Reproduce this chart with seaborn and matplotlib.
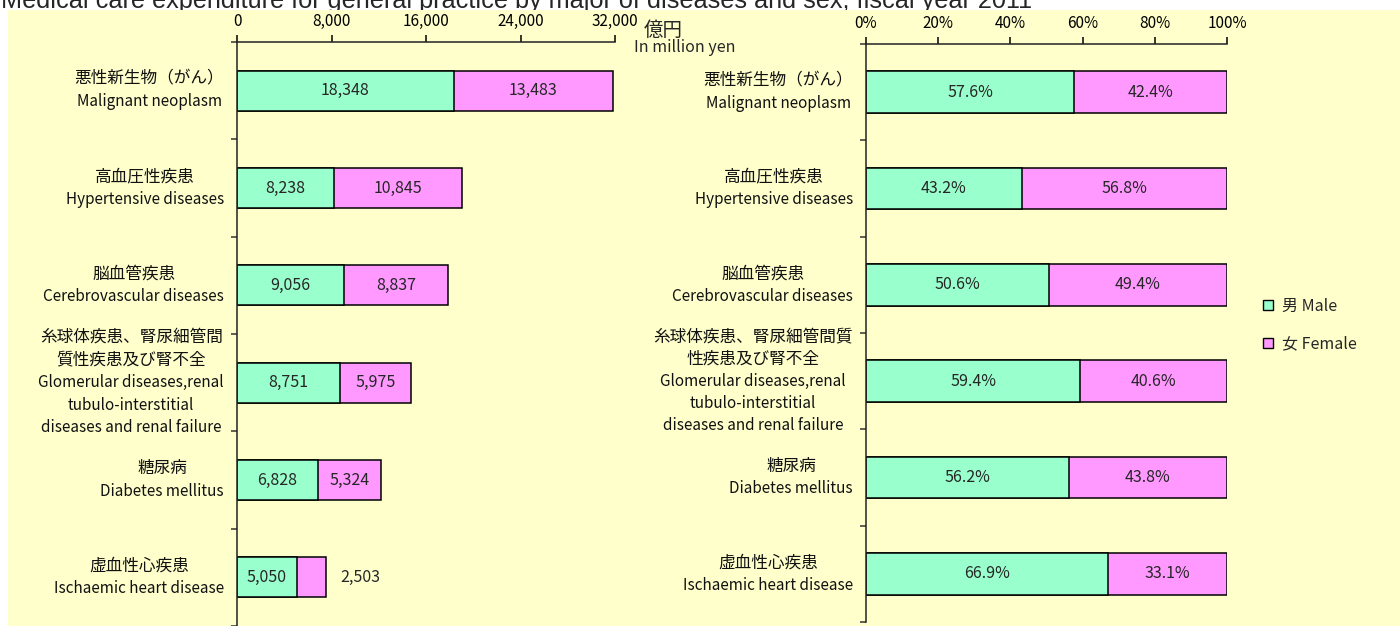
import numpy as np
import pandas as pd
import seaborn as sns
import matplotlib.pyplot as plt
from matplotlib.patches import Rectangle
from matplotlib.lines import Line2D
from matplotlib.transforms import blended_transform_factory

# Data
jp_left = [["悪性新生物（がん）"], ["高血圧性疾患"], ["脳血管疾患"],
           ["糸球体疾患、腎尿細管間", "質性疾患及び腎不全"], ["糖尿病"], ["虚血性心疾患"]]
jp_right = [["悪性新生物（がん）"], ["高血圧性疾患"], ["脳血管疾患"],
            ["糸球体疾患、腎尿細管間質", "性疾患及び腎不全"], ["糖尿病"], ["虚血性心疾患"]]
en_labels = [["Malignant neoplasm"], ["Hypertensive diseases"], ["Cerebrovascular diseases"],
             ["Glomerular diseases,renal", "tubulo-interstitial", "diseases and renal failure"],
             ["Diabetes mellitus"], ["Ischaemic heart disease"]]
categories = ["Malignant", "Hypertensive", "Cerebrovascular", "Glomerular", "Diabetes", "Ischaemic"]
male = [18348, 8238, 9056, 8751, 6828, 5050]
female = [13483, 10845, 8837, 5975, 5324, 2503]
male_pct = [57.6, 43.2, 50.6, 59.4, 56.2, 66.9]
female_pct = [42.4, 56.8, 49.4, 40.6, 43.8, 33.1]
amount_ticks = [0, 8000, 16000, 24000, 32000]
pct_ticks = [0, 20, 40, 60, 80, 100]

MALE_C = "#99FFCC"
FEMALE_C = "#FF99FF"
BG = "#FFFFCC"
W, H = 1400, 626

sns.set_style("white")
plt.rcParams["font.family"] = ["Noto Sans CJK JP", "DejaVu Sans"]

df = pd.DataFrame({"cat": categories, "male": male, "female": female,
                   "total": np.array(male) + np.array(female),
                   "male_pct": male_pct, "female_pct": female_pct,
                   "pct_total": np.array(male_pct) + np.array(female_pct)})

fig = plt.figure(figsize=(14, 6.26), dpi=100, facecolor="white")
fig.patches.append(Rectangle((8 / W, 0), 1, 1 - 10 / H, transform=fig.transFigure,
                             facecolor=BG, edgecolor="none", zorder=-1))
# title is partly cut off at the top edge, as in the source image
fig.text(1 / W, 1 - 8 / H,
         "Medical care expenditure for general practice by major of diseases and sex, fiscal year 2011",
         fontsize=18.2, family="Liberation Sans", va="baseline", ha="left", zorder=-2)

ax1 = fig.add_axes([237 / W, 0, 378 / W, 1 - 42 / H])
ax2 = fig.add_axes([866 / W, 4 / H, 361 / W, 1 - 48 / H])


def style_axis(ax, xmax, ticks, ticklabels):
    ax.set_facecolor("none")
    ax.set_xlim(0, xmax)
    ax.set_ylim(5.5, -0.5)
    ax.set_yticks(np.arange(-0.5, 6, 1))
    ax.set_yticklabels([])
    ax.set_xticks(ticks)
    ax.set_xticklabels(ticklabels)
    ax.xaxis.set_ticks_position("top")
    ax.xaxis.set_label_position("top")
    ax.tick_params(axis="x", direction="out", length=5, width=1.1, pad=3.5,
                   labelsize=11, colors="black")
    ax.tick_params(axis="y", direction="out", length=4, width=1.1, left=True, colors="#333333")
    for s in ["right", "bottom"]:
        ax.spines[s].set_visible(False)
    for s in ["top", "left"]:
        ax.spines[s].set_color("#222222")
        ax.spines[s].set_linewidth(1.1)
    ax.set_xlabel("")
    ax.set_ylabel("")


# Left: amounts
sns.barplot(data=df, x="total", y="cat", color=FEMALE_C, edgecolor="black",
            linewidth=1.1, width=0.41, saturation=1, ax=ax1)
sns.barplot(data=df, x="male", y="cat", color=MALE_C, edgecolor="black",
            linewidth=1.1, width=0.41, saturation=1, ax=ax1)
style_axis(ax1, 32000, amount_ticks, [f"{t:,}" for t in amount_ticks])
for i, (m, f) in enumerate(zip(male, female)):
    ax1.text(m / 2, i, f"{m:,}", ha="center", va="center", fontsize=11.5)
    if f < 3000:
        ax1.annotate(f"{f:,}", (m + f, i), xytext=(10, 0), textcoords="offset points",
                     ha="left", va="center", fontsize=11.5)
    else:
        ax1.text(m + f / 2, i, f"{f:,}", ha="center", va="center", fontsize=11.5)

# Right: shares
sns.barplot(data=df, x="pct_total", y="cat", color=FEMALE_C, edgecolor="black",
            linewidth=1.1, width=0.43, saturation=1, ax=ax2)
sns.barplot(data=df, x="male_pct", y="cat", color=MALE_C, edgecolor="black",
            linewidth=1.1, width=0.43, saturation=1, ax=ax2)
style_axis(ax2, 100, pct_ticks, [f"{t}%" for t in pct_ticks])
for i, (m, f) in enumerate(zip(male_pct, female_pct)):
    ax2.text(m / 2, i, f"{m:.1f}%", ha="center", va="center", fontsize=11.5)
    ax2.text(m + f / 2, i, f"{f:.1f}%", ha="center", va="center", fontsize=11.5)

# Category labels: lines centred, block right-aligned next to the axis
renderer = fig.canvas.get_renderer()


def put_labels(ax, jp_rows, x_right):
    tr = blended_transform_factory(fig.transFigure, ax.transData)
    step = 0.232
    for i, (jp, en) in enumerate(zip(jp_rows, en_labels)):
        lines = [(t, 12) for t in jp] + [(t, 11) for t in en]
        texts = []
        n = len(lines)
        for k, (t, fs) in enumerate(lines):
            y = i + (k - (n - 1) / 2) * step
            texts.append(fig.text(0, y, t, transform=tr, ha="center", va="center",
                                  fontsize=fs, color="#111111"))
        widths = [tx.get_window_extent(renderer).width for tx in texts]
        xc = (x_right - max(widths) / 2) / W
        for tx in texts:
            tx.set_x(xc)


put_labels(ax1, jp_left, 224)
put_labels(ax2, jp_right, 853)

# Unit label
fig.text(644 / W, 1 - 30 / H, "億円", fontsize=14, ha="left", va="center")
fig.text(634 / W, 1 - 47 / H, "In million yen", fontsize=11.5, ha="left", va="center")

# Legend
handles = [Line2D([], [], marker="s", linestyle="none", markersize=7.5,
                  markerfacecolor=MALE_C, markeredgecolor="black", markeredgewidth=1),
           Line2D([], [], marker="s", linestyle="none", markersize=7.5,
                  markerfacecolor=FEMALE_C, markeredgecolor="black", markeredgewidth=1)]
fig.legend(handles, ["男 Male", "女 Female"], loc="center left",
           bbox_to_anchor=(1248 / W, 1 - 325 / H), frameon=False,
           fontsize=11.5, labelspacing=1.3, handlelength=0.7, handletextpad=0.5)

fig.savefig("out.png", dpi=100, facecolor=fig.get_facecolor())
